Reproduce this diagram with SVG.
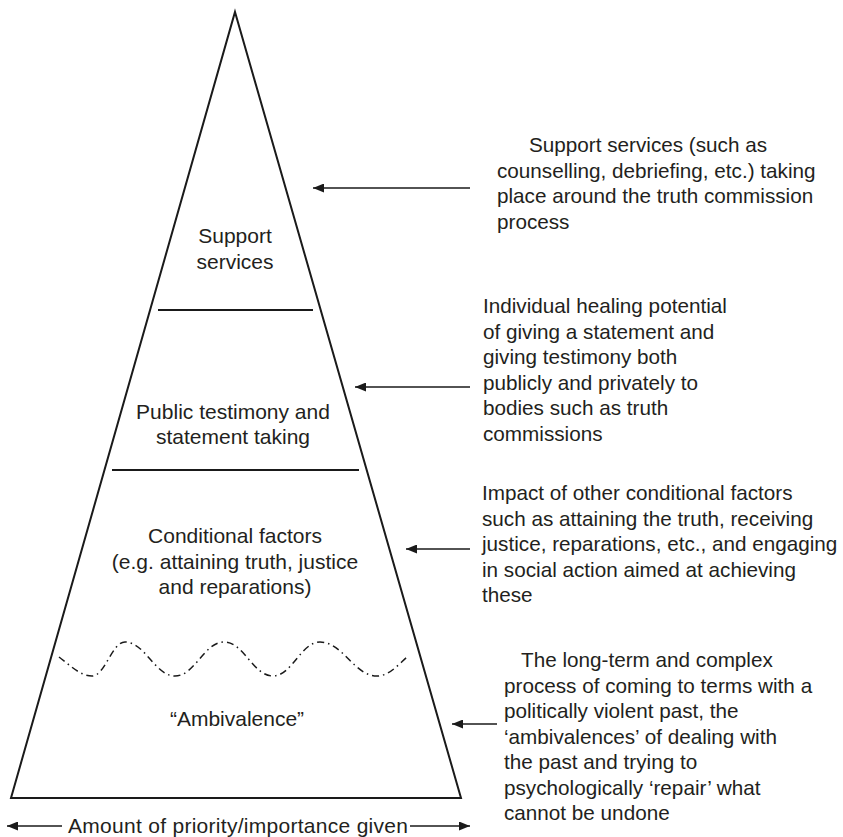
<svg xmlns="http://www.w3.org/2000/svg" width="843" height="837" viewBox="0 0 843 837">
<defs>
<marker id="ah" viewBox="0 0 11 9" markerWidth="11" markerHeight="9" refX="11" refY="4.5" orient="auto" markerUnits="userSpaceOnUse">
<path d="M0,0 L11,4.5 L0,9 z" fill="#1a1a1a"/>
</marker>
<style>
text{font-family:"Liberation Sans",Arial,Helvetica,sans-serif;fill:#231f20;}
.lab{font-size:21px;text-anchor:middle;}
.note{font-size:20.7px;}
.frame{fill:none;stroke:#1a1a1a;stroke-width:2;stroke-linejoin:miter;}
.div{stroke:#1a1a1a;stroke-width:2;}
.arr{stroke:#1a1a1a;stroke-width:1.4;fill:none;marker-end:url(#ah);}
.wave{fill:none;stroke:#1a1a1a;stroke-width:1.5;stroke-dasharray:7 4 1.5 4;}
</style>
</defs>
<rect width="843" height="837" fill="#ffffff"/>
<g id="pyramid">
<polygon class="frame" points="235,12 461,798 11,798"/>
<line class="div" x1="158" y1="310" x2="313" y2="310"/>
<line class="div" x1="112" y1="470" x2="359" y2="470"/>
<path class="wave" d="M59,657 C70,665 80,676 92,676 C105,676 112,642 125,642 C145,642 155,676 175,676 C195,676 204,642 224,642 C244,642 253,676 273,676 C292,676 301,642 320,642 C343,642 354,676 377,676 C389,676 398,665 407,657"/>
</g>
<g id="layer-support">
<text class="lab" x="235" y="243">Support</text>
<text class="lab" x="235" y="268.5">services</text>
</g>
<g id="layer-testimony">
<text class="lab" x="233" y="418.5">Public testimony and</text>
<text class="lab" x="233" y="444">statement taking</text>
</g>
<g id="layer-conditional">
<text class="lab" x="235" y="543">Conditional factors</text>
<text class="lab" x="235" y="568.5">(e.g. attaining truth, justice</text>
<text class="lab" x="235" y="594">and reparations)</text>
</g>
<g id="layer-ambivalence">
<text class="lab" x="237" y="726">“Ambivalence”</text>
</g>
<g id="note-support">
<text class="note" x="529" y="152">Support services (such as</text>
<text class="note" x="497" y="177.5">counselling, debriefing, etc.) taking</text>
<text class="note" x="497" y="203">place around the truth commission</text>
<text class="note" x="497" y="228.5">process</text>
</g>
<g id="note-testimony">
<text class="note" x="483" y="313">Individual healing potential</text>
<text class="note" x="483" y="338.5">of giving a statement and</text>
<text class="note" x="483" y="364">giving testimony both</text>
<text class="note" x="483" y="389.5">publicly and privately to</text>
<text class="note" x="483" y="415">bodies such as truth</text>
<text class="note" x="483" y="440.5">commissions</text>
</g>
<g id="note-conditional">
<text class="note" x="482" y="500">Impact of other conditional factors</text>
<text class="note" x="482" y="525.5">such as attaining the truth, receiving</text>
<text class="note" x="482" y="551">justice, reparations, etc., and engaging</text>
<text class="note" x="482" y="576.5">in social action aimed at achieving</text>
<text class="note" x="482" y="602">these</text>
</g>
<g id="note-ambivalence">
<text class="note" x="521" y="667">The long-term and complex</text>
<text class="note" x="504" y="692.5">process of coming to terms with a</text>
<text class="note" x="504" y="718">politically violent past, the</text>
<text class="note" x="504" y="743.5">‘ambivalences’ of dealing with</text>
<text class="note" x="504" y="769">the past and trying to</text>
<text class="note" x="504" y="794.5">psychologically ‘repair’ what</text>
<text class="note" x="504" y="820">cannot be undone</text>
</g>
<g id="axis-label">
<text x="68" y="833" font-size="21" textLength="340" lengthAdjust="spacing">Amount of priority/importance given</text>
</g>
<g id="connectors">
<line class="arr" x1="470" y1="188" x2="313" y2="188"/>
<line class="arr" x1="470" y1="387" x2="355" y2="387"/>
<line class="arr" x1="470" y1="549" x2="406" y2="549"/>
<line class="arr" x1="497" y1="724" x2="452" y2="724"/>
<line class="arr" x1="62" y1="826" x2="7" y2="826"/>
<line class="arr" x1="410" y1="826" x2="470" y2="826"/>
</g>
</svg>
